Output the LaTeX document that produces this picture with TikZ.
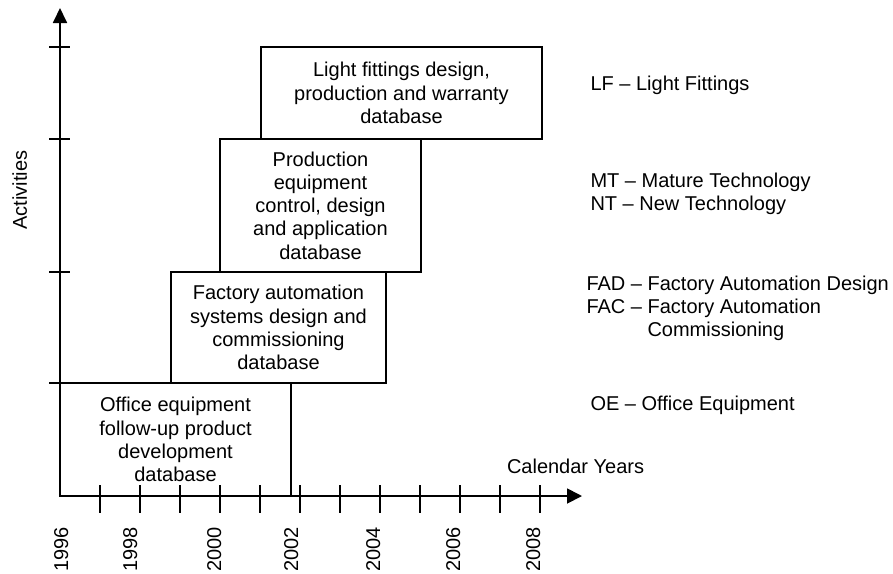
\documentclass[tikz,border=0pt]{standalone}
\usepackage{fontspec}
\setmainfont{Liberation Sans}
\usetikzlibrary{arrows.meta}
\begin{document}
\begin{tikzpicture}[x=1pt,y=-1pt,
  every node/.style={font=\fontsize{20pt}{23.3pt}\selectfont, inner sep=0pt, outer sep=0pt},
  axisline/.style={line width=1.8pt},
  tickline/.style={line width=1.6pt},
  dbbox/.style={draw, line width=1.6pt, align=center},
  legend/.style={anchor=base west},
  yearlabel/.style={rotate=90, anchor=base east}
]
\useasboundingbox (0,0) rectangle (893,573);

% activity databases
\node[dbbox, minimum width=231pt, minimum height=113pt] (oe) at (175.5,439.5)
  {Office equipment\\follow-up product\\development\\database};
\node[dbbox, minimum width=215pt, minimum height=111pt] (fad) at (278.5,327.5)
  {Factory automation\\systems design and\\commissioning\\database};
\node[dbbox, minimum width=201pt, minimum height=133pt] (pe) at (320.5,205.5)
  {Production\\equipment\\control, design\\and application\\database};
\node[dbbox, minimum width=281pt, minimum height=92pt] (lf) at (401.5,93)
  {Light fittings design,\\production and warranty\\database};

% axes
\coordinate (O) at (60,496);
\coordinate (ytip) at (60,8);
\coordinate (xtip) at (582,496);
\draw[axisline, -{Triangle[length=15pt,width=14pt]}] (O) -- (ytip);
\draw[axisline, -{Triangle[length=15pt,width=15pt]}] (O) -- (xtip);

% ticks on the activity axis
\foreach \y in {47,139,272,383}
  \draw[tickline] (49,\y) -- (70,\y);
% ticks on the year axis, one per year
\foreach \x in {100,140,...,540}
  \draw[tickline] (\x,485) -- (\x,513);

% axis titles
\node[rotate=90, anchor=base] (ylab) at (27,190) {Activities};
\node[anchor=base west] (xlab) at (507,473) {Calendar Years};

% year labels
\node[yearlabel] (y1996) at (68,527) {1996};
\node[yearlabel] (y1998) at (137,527) {1998};
\node[yearlabel] (y2000) at (221,527) {2000};
\node[yearlabel] (y2002) at (298,527) {2002};
\node[yearlabel] (y2004) at (380,527) {2004};
\node[yearlabel] (y2006) at (460,527) {2006};
\node[yearlabel] (y2008) at (540,527) {2008};

% abbreviations
\node[legend] (lfkey) at (590.5,90.5) {LF -- Light Fittings};
\node[legend] (mtkey) at (590.5,187) {MT -- Mature Technology};
\node[legend] (ntkey) at (590.5,210) {NT -- New Technology};
\node[legend] (fadkey) at (586.5,290) {FAD -- Factory Automation Design};
\node[legend] (fackey) at (586.5,313.5) {FAC -- Factory Automation};
\node[legend] (fackey2) at (647.5,336.5) {Commissioning};
\node[legend] (oekey) at (590.5,410.5) {OE -- Office Equipment};
\end{tikzpicture}
\end{document}
